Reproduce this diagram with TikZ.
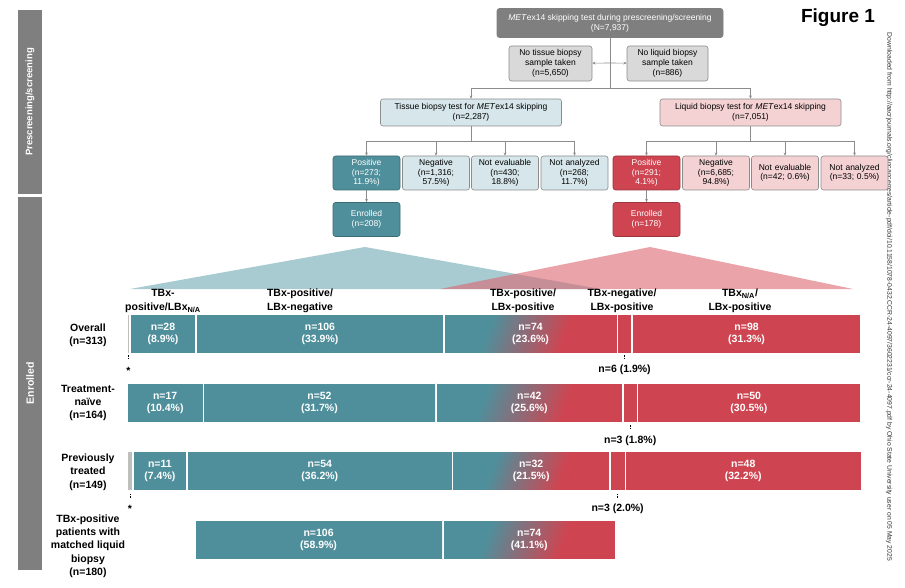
\documentclass[tikz,border=0pt]{standalone}
\usepackage{fontspec}
\setmainfont{Liberation Sans}
\usetikzlibrary{arrows.meta,positioning}

\definecolor{tbxteal}{HTML}{4F8F9B}
\definecolor{lbxred}{HTML}{CE4551}
\definecolor{paleteal}{HTML}{D6E6EA}
\definecolor{palered}{HTML}{F4D2D4}
\definecolor{boxgray}{HTML}{D9D9D9}
\definecolor{panelgray}{HTML}{7F7F7F}
\definecolor{linegray}{HTML}{8C8C8C}
\definecolor{fanteal}{HTML}{A8CBD2}
\definecolor{fanred}{HTML}{DA6670}
\definecolor{stargray}{HTML}{BFBFBF}

\pgfdeclarehorizontalshading{tealtored}{100bp}{color(0bp)=(tbxteal); color(35bp)=(tbxteal); color(62bp)=(lbxred); color(100bp)=(lbxred)}

\tikzset{
  flow/.style={rectangle, rounded corners=2.5pt, draw=linegray, line width=0.6pt, align=center, inner sep=1pt, font=\fontsize{8.5}{10}\selectfont},
  topbox/.style={flow, fill=panelgray, draw=panelgray, text=white, minimum width=226pt, minimum height=29pt},
  skipbox/.style={flow, fill=boxgray, minimum height=35pt},
  testbox/.style={flow, minimum width=181pt, minimum height=27pt},
  resbox/.style={flow, minimum width=67pt, minimum height=34pt, text width=65pt, font=\fontsize{8.5}{9.6}\selectfont},
  posbox/.style={resbox, text=white},
  arr/.style={draw=linegray, line width=0.6pt, -{Stealth[length=3.2pt,width=2.8pt]}},
  link/.style={draw=linegray, line width=0.6pt},
  sec/.style={rectangle, draw=white, line width=0.7pt, anchor=west, minimum height=39pt, inner sep=0pt, text=white, align=center, font=\fontsize{10.5}{12}\selectfont\bfseries},
  tsec/.style={sec, fill=tbxteal},
  lsec/.style={sec, fill=lbxred},
  msec/.style={sec, shade, shading=tealtored, shading angle=-20},
  nsec/.style={sec, fill=stargray},
  head/.style={align=center, font=\fontsize{10.5}{14}\selectfont\bfseries},
  rowlab/.style={align=center, font=\fontsize{10.5}{13.3}\selectfont\bfseries},
  note/.style={font=\fontsize{10.5}{12}\selectfont\bfseries},
  tick/.style={draw=black, line width=0.6pt, dash pattern=on 1.5pt off 1pt},
  phase/.style={rotate=90, text=white, font=\fontsize{9.5}{11}\selectfont\bfseries},
}

\begin{document}
\begin{tikzpicture}[x=1pt,y=-1pt]
	\useasboundingbox (0,0) rectangle (905,588);

	% phase panels
	\fill[panelgray] (18,10) rectangle (42,194);
	\fill[panelgray] (18,197) rectangle (42,570);
	\node[phase] (phase1) at (30,102) {Prescreening/screening};
	\node[phase, font=\fontsize{10.5}{12}\selectfont\bfseries] (phase2) at (30,383) {Enrolled};

	\node[font=\fontsize{19}{22}\selectfont\bfseries] (fig) at (838,18) {Figure 1};
	\node[rotate=-90, text=black!80, font=\fontsize{6.8}{8}\selectfont] (dl) at (889,297) {Downloaded from http://aacrjournals.org/clincancerres/article-pdf/doi/10.1158/1078-0432.CCR-24-4097/3602231/ccr-24-4097.pdf by Ohio State University user on 05 May 2025};

	% prescreening flow
	\node[topbox] (screen) at (610,23) {\textit{MET}ex14 skipping test during prescreening/screening\\(N=7,937)};
	\node[skipbox, minimum width=83pt] (notissue) at (550.5,63.5) {No tissue biopsy\\sample taken\\(n=5,650)};
	\node[skipbox, minimum width=81pt] (noliquid) at (667.5,63.5) {No liquid biopsy\\sample taken\\(n=886)};
	\node[testbox, fill=paleteal] (tissue) at (471,112.5) {Tissue biopsy test for \textit{MET}ex14 skipping\\(n=2,287)};
	\node[testbox, fill=palered] (liquid) at (750.5,112.5) {Liquid biopsy test for \textit{MET}ex14 skipping\\(n=7,051)};

	\node[posbox, fill=tbxteal, draw=tbxteal!75!black] (tpos) at (366.5,173) {Positive\\(n=273;\\11.9\%)};
	\node[resbox, fill=paleteal] (tneg) at (436,173) {Negative\\(n=1,316;\\57.5\%)};
	\node[resbox, fill=paleteal] (tnev) at (505,173) {Not evaluable\\(n=430;\\18.8\%)};
	\node[resbox, fill=paleteal] (tnan) at (574.5,173) {Not analyzed\\(n=268;\\11.7\%)};
	\node[posbox, fill=tbxteal, draw=tbxteal!75!black] (tenr) at (366.5,219.5) {Enrolled\\(n=208)};

	\node[posbox, fill=lbxred, draw=lbxred!75!black] (lpos) at (646.5,173) {Positive\\(n=291;\\4.1\%)};
	\node[resbox, fill=palered] (lneg) at (716,173) {Negative\\(n=6,685;\\94.8\%)};
	\node[resbox, fill=palered] (lnev) at (785,173) {Not evaluable\\(n=42; 0.6\%)};
	\node[resbox, fill=palered] (lnan) at (854.5,173) {Not analyzed\\(n=33; 0.5\%)};
	\node[posbox, fill=lbxred, draw=lbxred!75!black] (lenr) at (646.5,219.5) {Enrolled\\(n=178)};

	\coordinate (side0) at (610,63);
	\coordinate (split0) at (610,88);
	\coordinate (tsplit) at (471,141);
	\coordinate (lsplit) at (750.5,141);

	\draw[link] (screen) -- (split0);
	\draw[arr] (side0) -- (notissue);
	\draw[arr] (side0) -- (noliquid);
	\draw[arr] (split0) -| (tissue);
	\draw[arr] (split0) -| (liquid);
	\draw[link] (tissue) -- (tsplit);
	\draw[link] (liquid) -- (lsplit);
	\foreach \b in {tpos,tneg,tnev,tnan}
		\draw[arr] (tsplit) -| (\b);
	\foreach \b in {lpos,lneg,lnev,lnan}
		\draw[arr] (lsplit) -| (\b);
	\draw[arr] (tpos) -- (tenr);
	\draw[arr] (lpos) -- (lenr);

	% funnels
	\fill[fanteal] (130,289) -- (365,247) -- (600,289) -- cycle;
	\fill[fanred, opacity=0.6] (440,289) -- (650,247) -- (853,289) -- cycle;

	% column heads
	\node[head] (hd1) at (163,301) {TBx-\\positive/LBx\textsubscript{N/A}};
	\node[head] (hd2) at (300,301) {TBx-positive/\\LBx-negative};
	\node[head] (hd3) at (523,301) {TBx-positive/\\LBx-positive};
	\node[head] (hd4) at (622,301) {TBx-negative/\\LBx-positive};
	\node[head] (hd5) at (740,301) {TBx\textsubscript{N/A}/\\LBx-positive};

	% row labels
	\node[rowlab] (rowall) at (88,335) {Overall\\(n=313)};
	\node[rowlab] (rownaive) at (88,403) {Treatment-\\naïve\\(n=164)};
	\node[rowlab] (rowprev) at (88,472) {Previously\\treated\\(n=149)};
	\node[rowlab] (rowmatch) at (88,546) {TBx-positive\\patients with\\matched liquid\\biopsy\\(n=180)};

	% overall
	\node[nsec, minimum width=2.33pt] (ov0) at (127,333.5) {};
	\node[tsec, minimum width=65.30pt] (ov1) at (ov0.east) {n=28\\(8.9\%)};
	\node[tsec, minimum width=247.22pt] (ov2) at (ov1.east) {n=106\\(33.9\%)};
	\node[msec, minimum width=172.59pt] (ov3) at (ov2.east) {n=74\\(23.6\%)};
	\node[lsec, minimum width=13.99pt] (ov4) at (ov3.east) {};
	\node[lsec, minimum width=228.56pt] (ov5) at (ov4.east) {n=98\\(31.3\%)};
	\draw[tick] ([yshift=-2pt]ov0.south) -- ++(0,5);
	\node[note] (ov0lab) at ([yshift=-18pt]ov0.south) {*};
	\draw[tick] ([yshift=-2pt]ov4.south) -- ++(0,5);
	\node[note] (ov4lab) at ([yshift=-16pt]ov4.south) {n=6 (1.9\%)};

	% treatment-naive
	\node[tsec, minimum width=75.67pt] (nv1) at (127,402.5) {n=17\\(10.4\%)};
	\node[tsec, minimum width=231.46pt] (nv2) at (nv1.east) {n=52\\(31.7\%)};
	\node[msec, minimum width=186.95pt] (nv3) at (nv2.east) {n=42\\(25.6\%)};
	\node[lsec, minimum width=13.35pt] (nv4) at (nv3.east) {};
	\node[lsec, minimum width=222.56pt] (nv5) at (nv4.east) {n=50\\(30.5\%)};
	\draw[tick] ([yshift=-3pt]nv4.south) -- ++(0,5);
	\node[note] (nv4lab) at ([yshift=-18pt]nv4.south) {n=3 (1.8\%)};

	% previously treated
	\node[nsec, minimum width=4.90pt] (pv0) at (127,471) {};
	\node[tsec, minimum width=53.89pt] (pv1) at (pv0.east) {n=11\\(7.4\%)};
	\node[tsec, minimum width=264.56pt] (pv2) at (pv1.east) {n=54\\(36.2\%)};
	\node[msec, minimum width=156.78pt] (pv3) at (pv2.east) {n=32\\(21.5\%)};
	\node[lsec, minimum width=14.70pt] (pv4) at (pv3.east) {};
	\node[lsec, minimum width=235.17pt] (pv5) at (pv4.east) {n=48\\(32.2\%)};
	\draw[tick] ([yshift=-3pt]pv0.south) -- ++(0,5);
	\node[note] (pv0lab) at ([yshift=-18pt]pv0.south) {*};
	\draw[tick] ([yshift=-3pt]pv4.south) -- ++(0,5);
	\node[note] (pv4lab) at ([yshift=-18pt]pv4.south) {n=3 (2.0\%)};

	% matched liquid biopsy
	\node[tsec, minimum width=247.22pt] (mt1) at (194.63,539.5) {n=106\\(58.9\%)};
	\node[msec, minimum width=172.59pt] (mt2) at (mt1.east) {n=74\\(41.1\%)};

\end{tikzpicture}
\end{document}
